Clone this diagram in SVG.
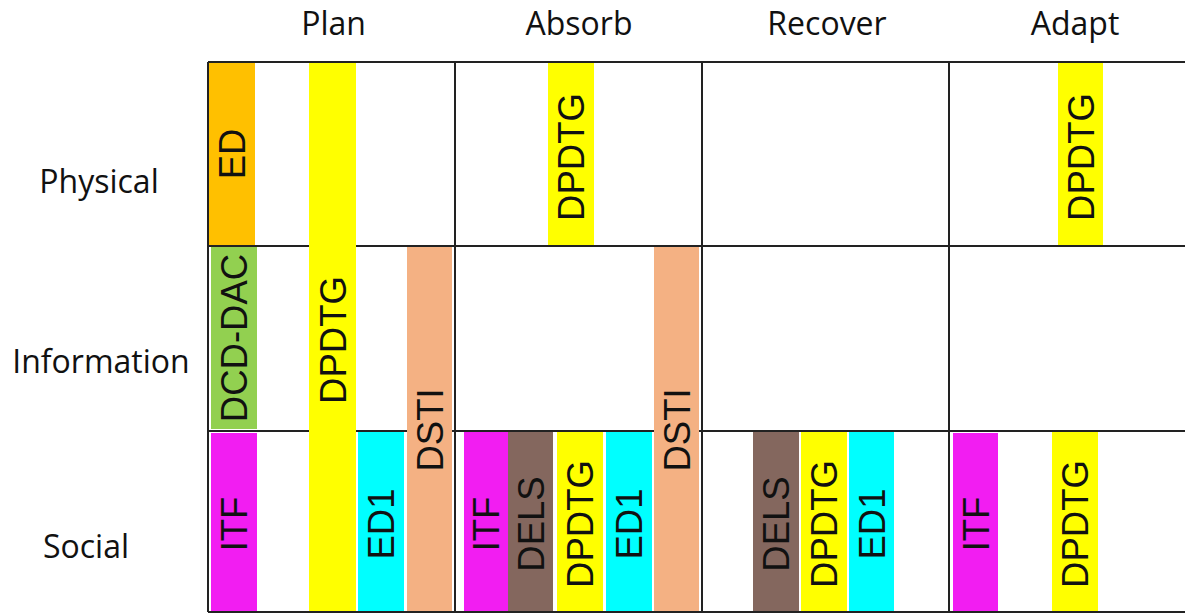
<svg xmlns="http://www.w3.org/2000/svg" width="1185" height="614" viewBox="0 0 1185 614">
<style>
.hdr{font-family:"Open Sans","Liberation Sans",sans-serif;font-size:32px;fill:#111;text-anchor:middle}
.lbl{font-family:"Liberation Sans",Arial,sans-serif;font-size:36.5px;fill:#111;text-anchor:middle}
.grid{stroke:#222;stroke-width:2;fill:none}
.orange{fill:#FFC000}.yellow{fill:#FFFF00}.green{fill:#92D050}.peach{fill:#F4B183}
.magenta{fill:#F21DF2}.cyan{fill:#00FFFF}.brown{fill:#84675E}
</style>
<rect width="1185" height="614" fill="#fff"/>
<g id="headers">
<text class="hdr" x="333.5" y="35">Plan</text>
<text class="hdr" x="579" y="35">Absorb</text>
<text class="hdr" x="827" y="35">Recover</text>
<text class="hdr" x="1075" y="35">Adapt</text>
<text class="hdr" x="99" y="193">Physical</text>
<text class="hdr" x="101" y="373">Information</text>
<text class="hdr" x="86" y="558">Social</text>
</g>
<g id="grid" class="grid">
<line x1="208" y1="62" x2="1185" y2="62"/>
<line x1="208" y1="246" x2="1185" y2="246"/>
<line x1="208" y1="431" x2="1185" y2="431"/>
<line x1="208" y1="612" x2="1185" y2="612"/>
<line x1="208" y1="62" x2="208" y2="612"/>
<line x1="455" y1="62" x2="455" y2="612"/>
<line x1="702" y1="62" x2="702" y2="612"/>
<line x1="949" y1="62" x2="949" y2="612"/>
</g>
<g id="plan">
<g id="plan-ED"><rect class="orange" x="209" y="63" width="46" height="182"/><text class="lbl" transform="translate(232,154) rotate(-90)" y="13">ED</text></g>
<g id="plan-DPDTG"><rect class="yellow" x="309" y="63" width="47" height="548"/><text class="lbl" transform="translate(332.5,340) rotate(-90)" y="13">DPDTG</text></g>
<g id="plan-DCD-DAC"><rect class="green" x="211" y="247" width="46" height="182"/><text class="lbl" transform="translate(234,338) rotate(-90)" y="13">DCD-DAC</text></g>
<g id="plan-DSTI"><rect class="peach" x="407" y="247" width="45" height="364"/><text class="lbl" transform="translate(429.5,430) rotate(-90)" y="13">DSTI</text></g>
<g id="plan-ITF"><rect class="magenta" x="211" y="433" width="46" height="178"/><text class="lbl" transform="translate(234,524) rotate(-90)" y="13">ITF</text></g>
<g id="plan-ED1"><rect class="cyan" x="358" y="432" width="46" height="179"/><text class="lbl" transform="translate(381,524) rotate(-90)" y="13">ED1</text></g>
</g>
<g id="absorb">
<g id="absorb-DPDTG-phys"><rect class="yellow" x="548" y="63" width="46" height="182"/><text class="lbl" transform="translate(571,157) rotate(-90)" y="13">DPDTG</text></g>
<g id="absorb-ITF"><rect class="magenta" x="464" y="432" width="44" height="179"/><text class="lbl" transform="translate(486,524) rotate(-90)" y="13">ITF</text></g>
<g id="absorb-DELS"><rect class="brown" x="508" y="432" width="45" height="179"/><text class="lbl" transform="translate(530.5,524) rotate(-90)" y="13">DELS</text></g>
<g id="absorb-DPDTG"><rect class="yellow" x="557" y="432" width="46" height="179"/><text class="lbl" transform="translate(580,524) rotate(-90)" y="13">DPDTG</text></g>
<g id="absorb-ED1"><rect class="cyan" x="606" y="432" width="46" height="179"/><text class="lbl" transform="translate(629,524) rotate(-90)" y="13">ED1</text></g>
<g id="absorb-DSTI"><rect class="peach" x="654" y="247" width="45" height="364"/><text class="lbl" transform="translate(676.5,430) rotate(-90)" y="13">DSTI</text></g>
</g>
<g id="recover">
<g id="recover-DELS"><rect class="brown" x="753" y="432" width="46" height="179"/><text class="lbl" transform="translate(776,524) rotate(-90)" y="13">DELS</text></g>
<g id="recover-DPDTG"><rect class="yellow" x="801" y="432" width="46" height="179"/><text class="lbl" transform="translate(824,524) rotate(-90)" y="13">DPDTG</text></g>
<g id="recover-ED1"><rect class="cyan" x="849" y="432" width="45" height="179"/><text class="lbl" transform="translate(871.5,524) rotate(-90)" y="13">ED1</text></g>
</g>
<g id="adapt">
<g id="adapt-DPDTG-phys"><rect class="yellow" x="1058" y="63" width="45" height="182"/><text class="lbl" transform="translate(1080.5,157) rotate(-90)" y="13">DPDTG</text></g>
<g id="adapt-ITF"><rect class="magenta" x="953" y="433" width="45" height="178"/><text class="lbl" transform="translate(975.5,524) rotate(-90)" y="13">ITF</text></g>
<g id="adapt-DPDTG"><rect class="yellow" x="1052" y="432" width="46" height="179"/><text class="lbl" transform="translate(1075,524) rotate(-90)" y="13">DPDTG</text></g>
</g>
<g id="connectors"/>
</svg>
